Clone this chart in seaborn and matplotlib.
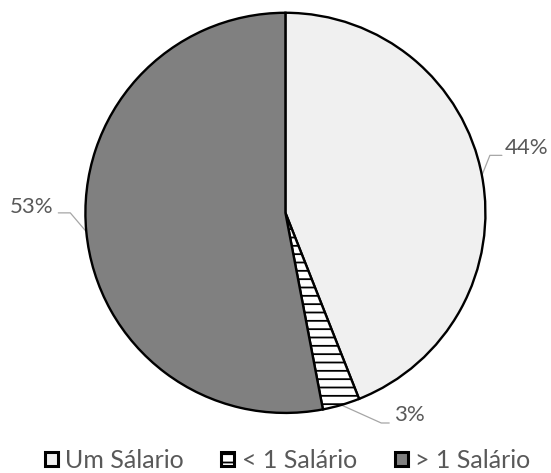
import numpy as np
import matplotlib
matplotlib.use("Agg")
import matplotlib.pyplot as plt
import seaborn as sns

sns.set_theme(style="white")
plt.rcParams["font.family"] = ["Lato", "DejaVu Sans"]
plt.rcParams["hatch.linewidth"] = 1.3

categories = ["Um Sálario", "< 1 Salário", "> 1 Salário"]
shares = [44, 3, 53]
colors = ["#f0f0f0", "#ffffff", "#808080"]
hatches = [None, "--", None]
text_color = "#595959"

fig = plt.figure(figsize=(5.51, 4.73), dpi=100)
ax = fig.add_axes([0.155, 0.127, 0.726, 0.846])

wedges, _ = ax.pie(
    shares, colors=colors, startangle=90, counterclock=False,
    wedgeprops=dict(edgecolor="black", linewidth=1.7),
)
for w, h in zip(wedges, hatches):
    if h:
        w.set_hatch(h)

# leader lines: elbow offset from the wedge rim, horizontal run, text gap and lift
label_layout = {
    0: dict(elbow=(0.04, 0.10), run=0.06, gap=0.015, dy=0.035, ha="left"),
    1: dict(elbow=(0.20, -0.09), run=0.04, gap=0.025, dy=0.04, ha="left"),
    2: dict(elbow=(-0.08, 0.094), run=-0.06, gap=-0.025, dy=0.03, ha="right"),
}
for i, (w, v) in enumerate(zip(wedges, shares)):
    ang = np.deg2rad((w.theta1 + w.theta2) / 2)
    x0, y0 = np.cos(ang), np.sin(ang)
    lay = label_layout[i]
    x1, y1 = x0 + lay["elbow"][0], y0 + lay["elbow"][1]
    x2, y2 = x1 + lay["run"], y1
    ax.plot([x0, x1, x2], [y0, y1, y2], color="#a6a6a6", lw=0.9,
            zorder=0, clip_on=False)
    ax.text(x2 + lay["gap"], y2 + lay["dy"], f"{v}%", ha=lay["ha"],
            va="center", fontsize=16, color=text_color, clip_on=False)

ax.set_xlim(-1, 1)
ax.set_ylim(-1, 1)
ax.set_aspect("auto")
ax.axis("off")

leg = fig.legend(
    wedges, categories, loc="center", bbox_to_anchor=(0.522, 0.027),
    ncol=3, frameon=False, fontsize=18, handlelength=0.52, handleheight=0.52,
    handletextpad=0.3, columnspacing=1.5, borderaxespad=0, borderpad=0,
)
for t in leg.get_texts():
    t.set_color(text_color)
for p in leg.get_patches():
    p.set_linewidth(2.2)

fig.savefig("out.png", dpi=100, facecolor="white")
